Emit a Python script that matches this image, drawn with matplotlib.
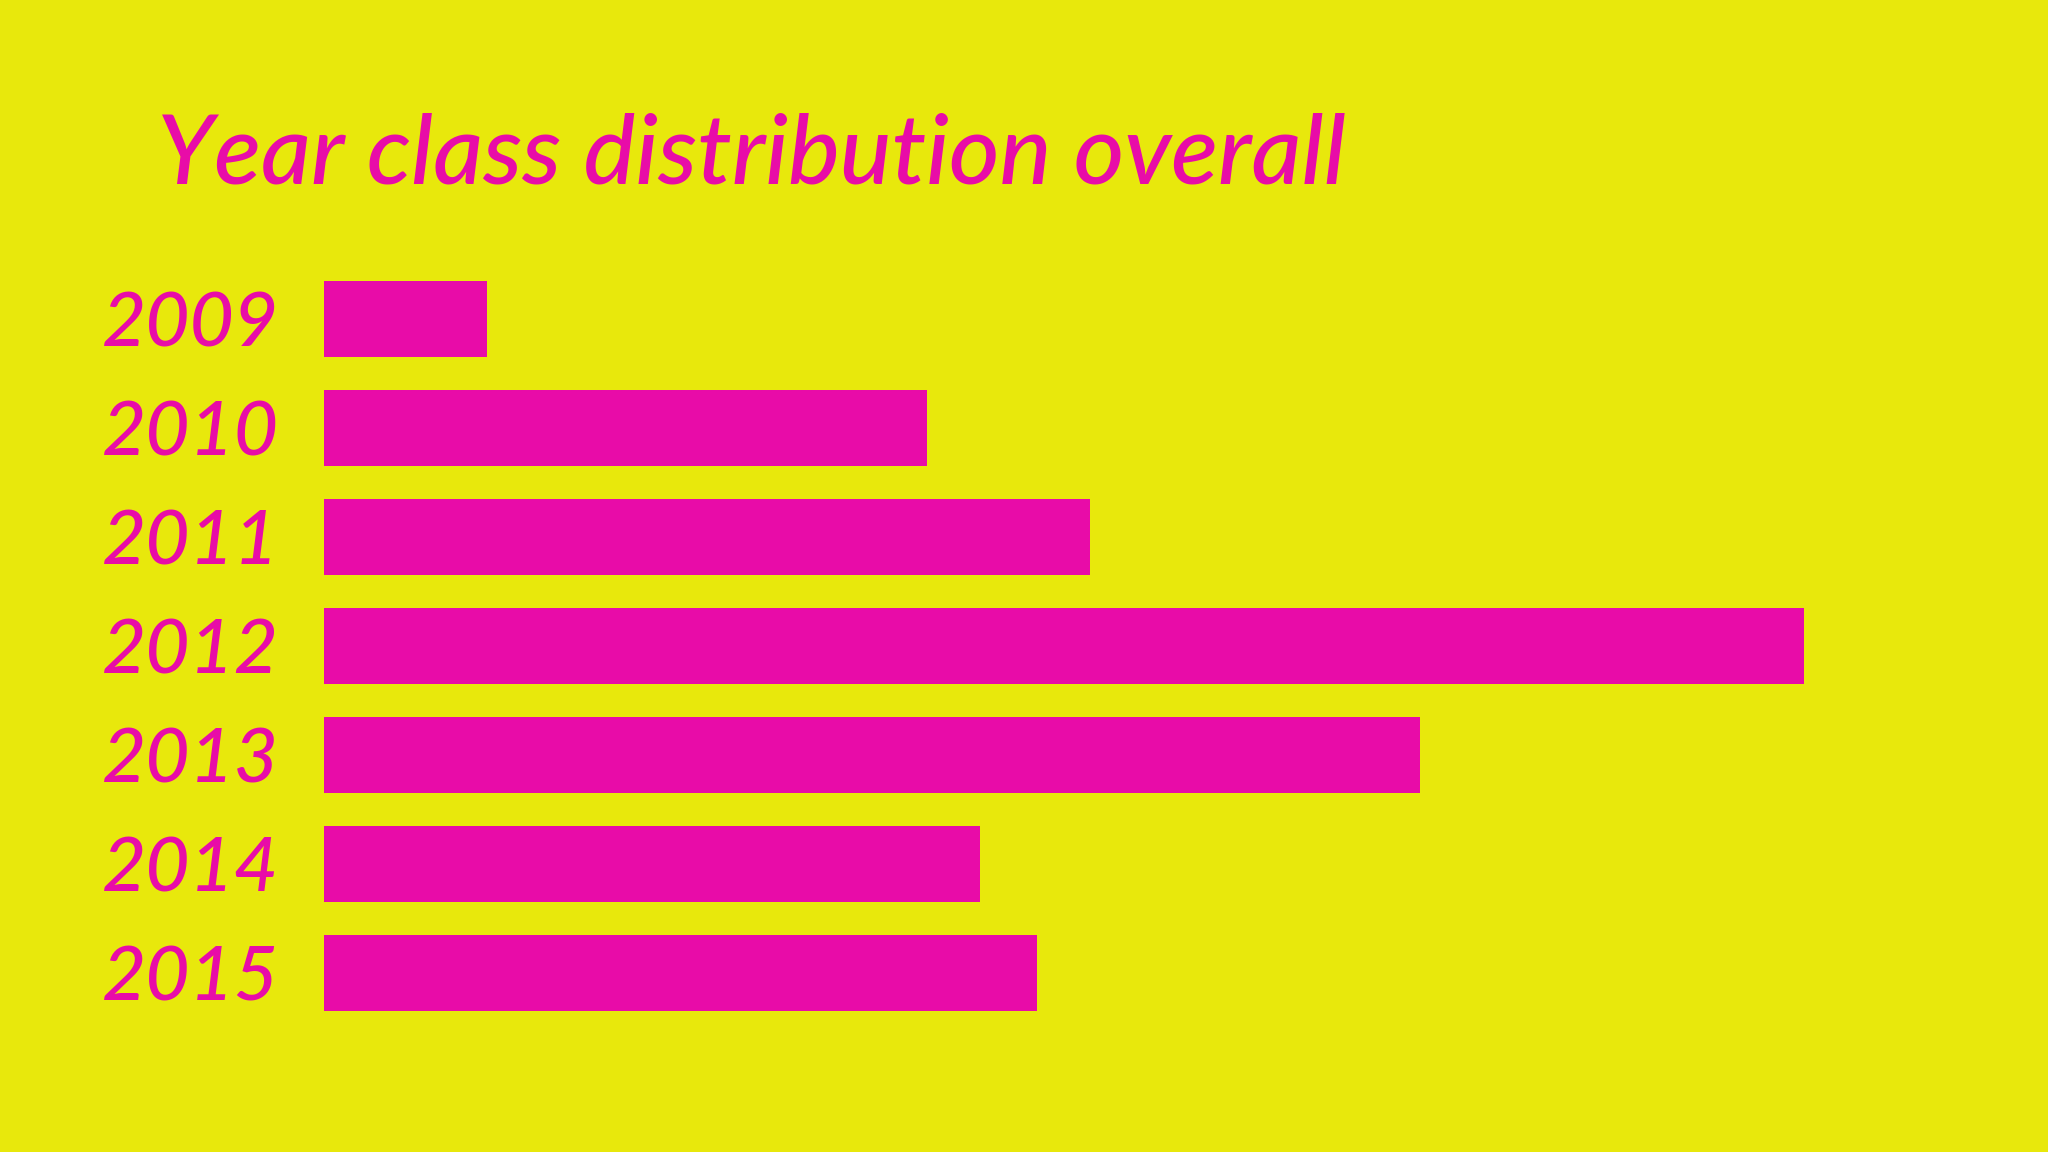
import matplotlib.pyplot as plt

years = ['2009', '2010', '2011', '2012', '2013', '2014', '2015']
values = [125, 462, 587, 1134, 840, 503, 546]

bg = '#E8E80C'
pink = '#E80CA8'

fig = plt.figure(figsize=(20.48, 11.52), dpi=100, facecolor=bg)
ax = fig.add_axes([0.158, 0.1224, 0.723, 0.6338])
ax.set_facecolor(bg)

ax.barh(range(len(years)), values, height=0.7, color=pink)
ax.set_xlim(0, max(values))
ax.set_ylim(len(years) - 0.65, -0.35)

ax.set_yticks(range(len(years)))
ax.set_yticklabels(years, fontsize=55, color=pink, family='Lato', style='italic',
                   weight='medium')
ax.tick_params(axis='y', length=0, pad=32)
ax.set_xticks([])
for s in ax.spines.values():
    s.set_visible(False)

fig.text(0.0765, 0.841, 'Year class distribution overall', fontsize=70,
         color=pink, family='Lato', style='italic', weight='medium', va='baseline')

fig.savefig('out.png', dpi=100, facecolor=bg)
